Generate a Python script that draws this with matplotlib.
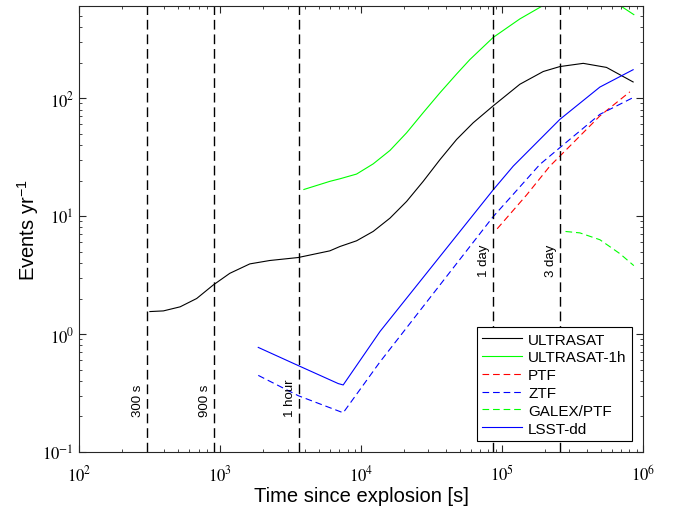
import numpy as np
import matplotlib
matplotlib.use("Agg")
import matplotlib.pyplot as plt
from matplotlib.ticker import FuncFormatter

plt.rcParams['font.family'] = ['Liberation Sans', 'DejaVu Sans']
plt.rcParams['mathtext.fontset'] = 'stix'

# ULTRASAT
t_ultrasat = [316, 394, 518, 679, 889, 1167, 1618, 2244, 3565, 5984, 7063, 9268,
              12162, 15996, 20989, 27542, 36224, 47534, 62373, 86497, 133660,
              195884, 257040, 376704, 550808, 851138]
n_ultrasat = [1.55, 1.57, 1.70, 2.0, 2.6, 3.27, 3.93, 4.2, 4.45, 5.07, 5.52, 6.17,
              7.41, 9.6, 13.3, 19.7, 30.1, 44.6, 61.8, 86, 131,
              168, 185, 197, 182, 137]

# ULTRASAT-1h
t_ultrasat_1h = [3917, 5998, 7063, 9268, 12162, 15996, 20989, 27542, 36224,
                 47534, 59020, 86497, 133660, 195884, 281838, 398107, 562341,
                 685488, 860994]
n_ultrasat_1h = [16.8, 19.7, 20.7, 22.7, 27.7, 36, 50.8, 75.3, 111,
                 160, 212, 327, 469, 610, 700, 740, 700,
                 610, 510]

# PTF
t_ptf = [92257, 149279, 218273, 257040, 494311, 807235]
n_ptf = [7.8, 15.1, 26.5, 32.2, 70.6, 113]

# ZTF
t_ztf = [1858, 3573, 7447, 13583, 86497, 113501, 185353, 257040, 494311, 851138]
n_ztf = [0.446, 0.30, 0.215, 0.58, 9.9, 14.2, 27.4, 38, 72.8, 101]

# GALEX/PTF
t_galex = [281838, 356451, 494311, 685488, 860994]
n_galex = [7.4, 7.2, 6.3, 4.8, 3.8]

# LSST-dd
t_lsst = [1858, 3573, 6871, 7447, 13583, 86497, 119950, 257040, 494311, 851138]
n_lsst = [0.77, 0.54, 0.38, 0.37, 1.05, 16.7, 26.5, 66, 124, 174]

# marker times
t_marks = [300, 900, 3600, 86400, 259200]
mark_labels = ['300 s', '900 s', '1 hour', '1 day', '3 day']
mark_label_y = [0.2, 0.2, 0.2, 3.1, 3.1]

fig = plt.figure(figsize=(6.73, 5.10), dpi=100)
ax = fig.add_axes([0.1181, 0.1118, 0.8373, 0.8739])

dash = (6, 3.5)
lw = 0.8
ax.loglog(t_ultrasat, n_ultrasat, color='k', lw=lw, label='ULTRASAT')
ax.loglog(t_ultrasat_1h, n_ultrasat_1h, color='#00ff00', lw=lw, label='ULTRASAT-1h')
ax.loglog(t_ptf, n_ptf, color='r', lw=lw, dashes=dash, label='PTF')
ax.loglog(t_ztf, n_ztf, color='b', lw=lw, dashes=dash, label='ZTF')
ax.loglog(t_galex, n_galex, color='#00ff00', lw=lw, dashes=dash, label='GALEX/PTF')
ax.loglog(t_lsst, n_lsst, color='b', lw=lw, label='LSST-dd')

for t, lab, y in zip(t_marks, mark_labels, mark_label_y):
    ax.axvline(t, color='k', lw=1.0, dashes=(7, 3.5))
    ax.text(t * 0.95, y, lab, rotation=90, ha='right', va='bottom', fontsize=9.5)

ax.set_xlim(1e2, 1e6)
ax.set_ylim(1e-1, 600)
ax.set_xlabel('Time since explosion [s]', fontsize=14.5, labelpad=2)
ax.set_ylabel('Events yr$^{\\mathregular{-1}}$', fontsize=14.5, labelpad=1)

fmt = FuncFormatter(lambda v, p: '$10^{%d}$' % int(round(np.log10(v))))
ax.xaxis.set_major_formatter(fmt)
ax.yaxis.set_major_formatter(fmt)

ax.tick_params(which='both', direction='in', top=True, right=True,
               labelsize=12, color='#262626')
ax.tick_params(axis='x', which='major', pad=8)
ax.tick_params(axis='y', which='major', pad=4)
ax.tick_params(which='major', length=5)
ax.tick_params(which='minor', length=2.5)
for s in ax.spines.values():
    s.set_color('#262626')
    s.set_linewidth(0.8)

leg = ax.legend(loc='lower right', bbox_to_anchor=(0.9805, 0.0247),
                borderaxespad=0, fontsize=11, handlelength=2.6,
                fancybox=False, framealpha=1, edgecolor='k',
                labelspacing=0.25, borderpad=0.35, handletextpad=0.4)
leg.get_frame().set_linewidth(0.8)

fig.savefig('out.png', dpi=100)
